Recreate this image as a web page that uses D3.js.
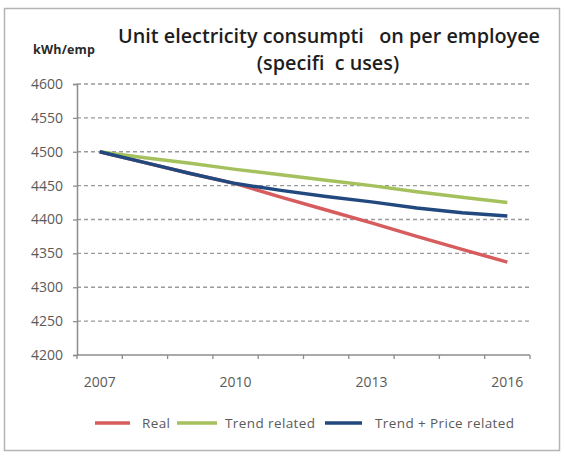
<!DOCTYPE html>
<html>
<head>
<meta charset="utf-8">
<script src="https://cdn.jsdelivr.net/npm/d3@7"></script>
<style>
  html, body { margin: 0; padding: 0; background: #fff; }
  svg { display: block; }
  text { font-family: "Open Sans", "DejaVu Sans", sans-serif; }
</style>
</head>
<body>
<svg id="chart" width="564" height="459"></svg>
<script>
// Unit electricity consumption per employee, kWh/emp
const years = ["2007", "2008", "2009", "2010", "2011", "2012", "2013", "2014", "2015", "2016"];
const labelledYears = ["2007", "2010", "2013", "2016"];
const realValues = [4500, 4484, 4468, 4453, 4433, 4414, 4395, 4375, 4356, 4337];
const trendValues = [4500, 4491, 4483, 4474, 4466, 4458, 4450, 4441, 4433, 4425];
const trendPriceValues = [4500, 4484, 4468, 4453, 4443, 4434, 4426, 4417, 4410, 4405];
const yTicks = [4200, 4250, 4300, 4350, 4400, 4450, 4500, 4550, 4600];

const seriesNames = ["Real", "Trend related", "Trend + Price related"];
const seriesColors = ["#d65c5e", "#a4c15e", "#22497f"];
const series = [realValues, trendValues, trendPriceValues];

const svg = d3.select("#chart");

// chart frame
svg.append("rect")
  .attr("x", 4.5).attr("y", 8.5)
  .attr("width", 555).attr("height", 442)
  .attr("fill", "#fff")
  .attr("stroke", "#b4b4b4")
  .attr("stroke-width", 1.5);

const plot = { left: 77, right: 530, top: 84, bottom: 355 };

const x = d3.scaleBand().domain(years).range([plot.left, plot.right]);
const y = d3.scaleLinear().domain([4200, 4600]).range([plot.bottom, plot.top]);

// dashed horizontal gridlines
svg.append("g")
  .selectAll("line")
  .data(yTicks.slice(1))
  .join("line")
  .attr("x1", plot.left).attr("x2", plot.right)
  .attr("y1", d => y(d)).attr("y2", d => y(d))
  .attr("stroke", "#9a9a9a")
  .attr("stroke-width", 1.3)
  .attr("stroke-dasharray", "4,3");

// y axis
const yAxis = svg.append("g")
  .attr("transform", `translate(${plot.left},0)`)
  .call(d3.axisLeft(y).tickValues(yTicks).tickSize(4).tickPadding(10).tickFormat(d3.format("d")));
yAxis.select(".domain").attr("stroke", "#8c8c8c").attr("stroke-width", 1.5);
yAxis.selectAll(".tick line").attr("stroke", "#8c8c8c").attr("stroke-width", 1.3);
yAxis.selectAll(".tick text")
  .attr("fill", "#5a5a5a")
  .style("font-size", "14px")
  .style("font-family", "\"Open Sans\", sans-serif");

// x axis: line with ticks at category boundaries
const xAxisG = svg.append("g");
xAxisG.append("line")
  .attr("x1", plot.left).attr("x2", plot.right)
  .attr("y1", plot.bottom).attr("y2", plot.bottom)
  .attr("stroke", "#8c8c8c").attr("stroke-width", 1.5);
xAxisG.selectAll("line.tk")
  .data(years.concat(["end"]))
  .join("line")
  .attr("class", "tk")
  .attr("x1", d => d === "end" ? plot.right : x(d))
  .attr("x2", d => d === "end" ? plot.right : x(d))
  .attr("y1", plot.bottom).attr("y2", plot.bottom + 4)
  .attr("stroke", "#8c8c8c").attr("stroke-width", 1.3);
xAxisG.selectAll("text")
  .data(labelledYears)
  .join("text")
  .attr("x", d => x(d) + x.bandwidth() / 2)
  .attr("y", plot.bottom + 32)
  .attr("text-anchor", "middle")
  .attr("fill", "#5a5a5a")
  .style("font-size", "14px")
  .text(d => d);

// series lines
const line = d3.line()
  .x((d, i) => x(years[i]) + x.bandwidth() / 2)
  .y(d => y(d));

svg.append("g")
  .selectAll("path")
  .data(series)
  .join("path")
  .attr("d", d => line(d))
  .attr("fill", "none")
  .attr("stroke", (d, i) => seriesColors[i])
  .attr("stroke-width", 3.5)
  .attr("stroke-linejoin", "round");

// title
const title = svg.append("text")
  .attr("text-anchor", "middle")
  .attr("fill", "#1e1e1e")
  .style("font-size", "19.8px")
  .style("font-weight", "600")
  .attr("xml:space", "preserve");
title.append("tspan").attr("x", 329).attr("y", 43).text("Unit electricity consumpti   on per employee");
title.append("tspan").attr("x", 328).attr("y", 70).text("(specifi  c uses)");

// unit label
svg.append("text")
  .attr("x", 33).attr("y", 54)
  .attr("fill", "#2a2a2a")
  .style("font-size", "12.5px")
  .style("font-weight", "700")
  .style("letter-spacing", "0.2px")
  .text("kWh/emp");

// legend
const legendItems = [
  { name: seriesNames[0], color: seriesColors[0], x1: 95, x2: 130, tx: 142 },
  { name: seriesNames[1], color: seriesColors[1], x1: 177, x2: 217, tx: 225 },
  { name: seriesNames[2], color: seriesColors[2], x1: 325, x2: 362, tx: 375 }
];
const legend = svg.append("g");
legend.selectAll("line")
  .data(legendItems)
  .join("line")
  .attr("x1", d => d.x1).attr("x2", d => d.x2)
  .attr("y1", 423).attr("y2", 423)
  .attr("stroke", d => d.color)
  .attr("stroke-width", 3.5);
legend.selectAll("text")
  .data(legendItems)
  .join("text")
  .attr("x", d => d.tx).attr("y", 428)
  .attr("fill", "#5a5a5a")
  .style("font-size", "13.5px")
  .style("letter-spacing", "0.4px")
  .text(d => d.name);
</script>
</body>
</html>
